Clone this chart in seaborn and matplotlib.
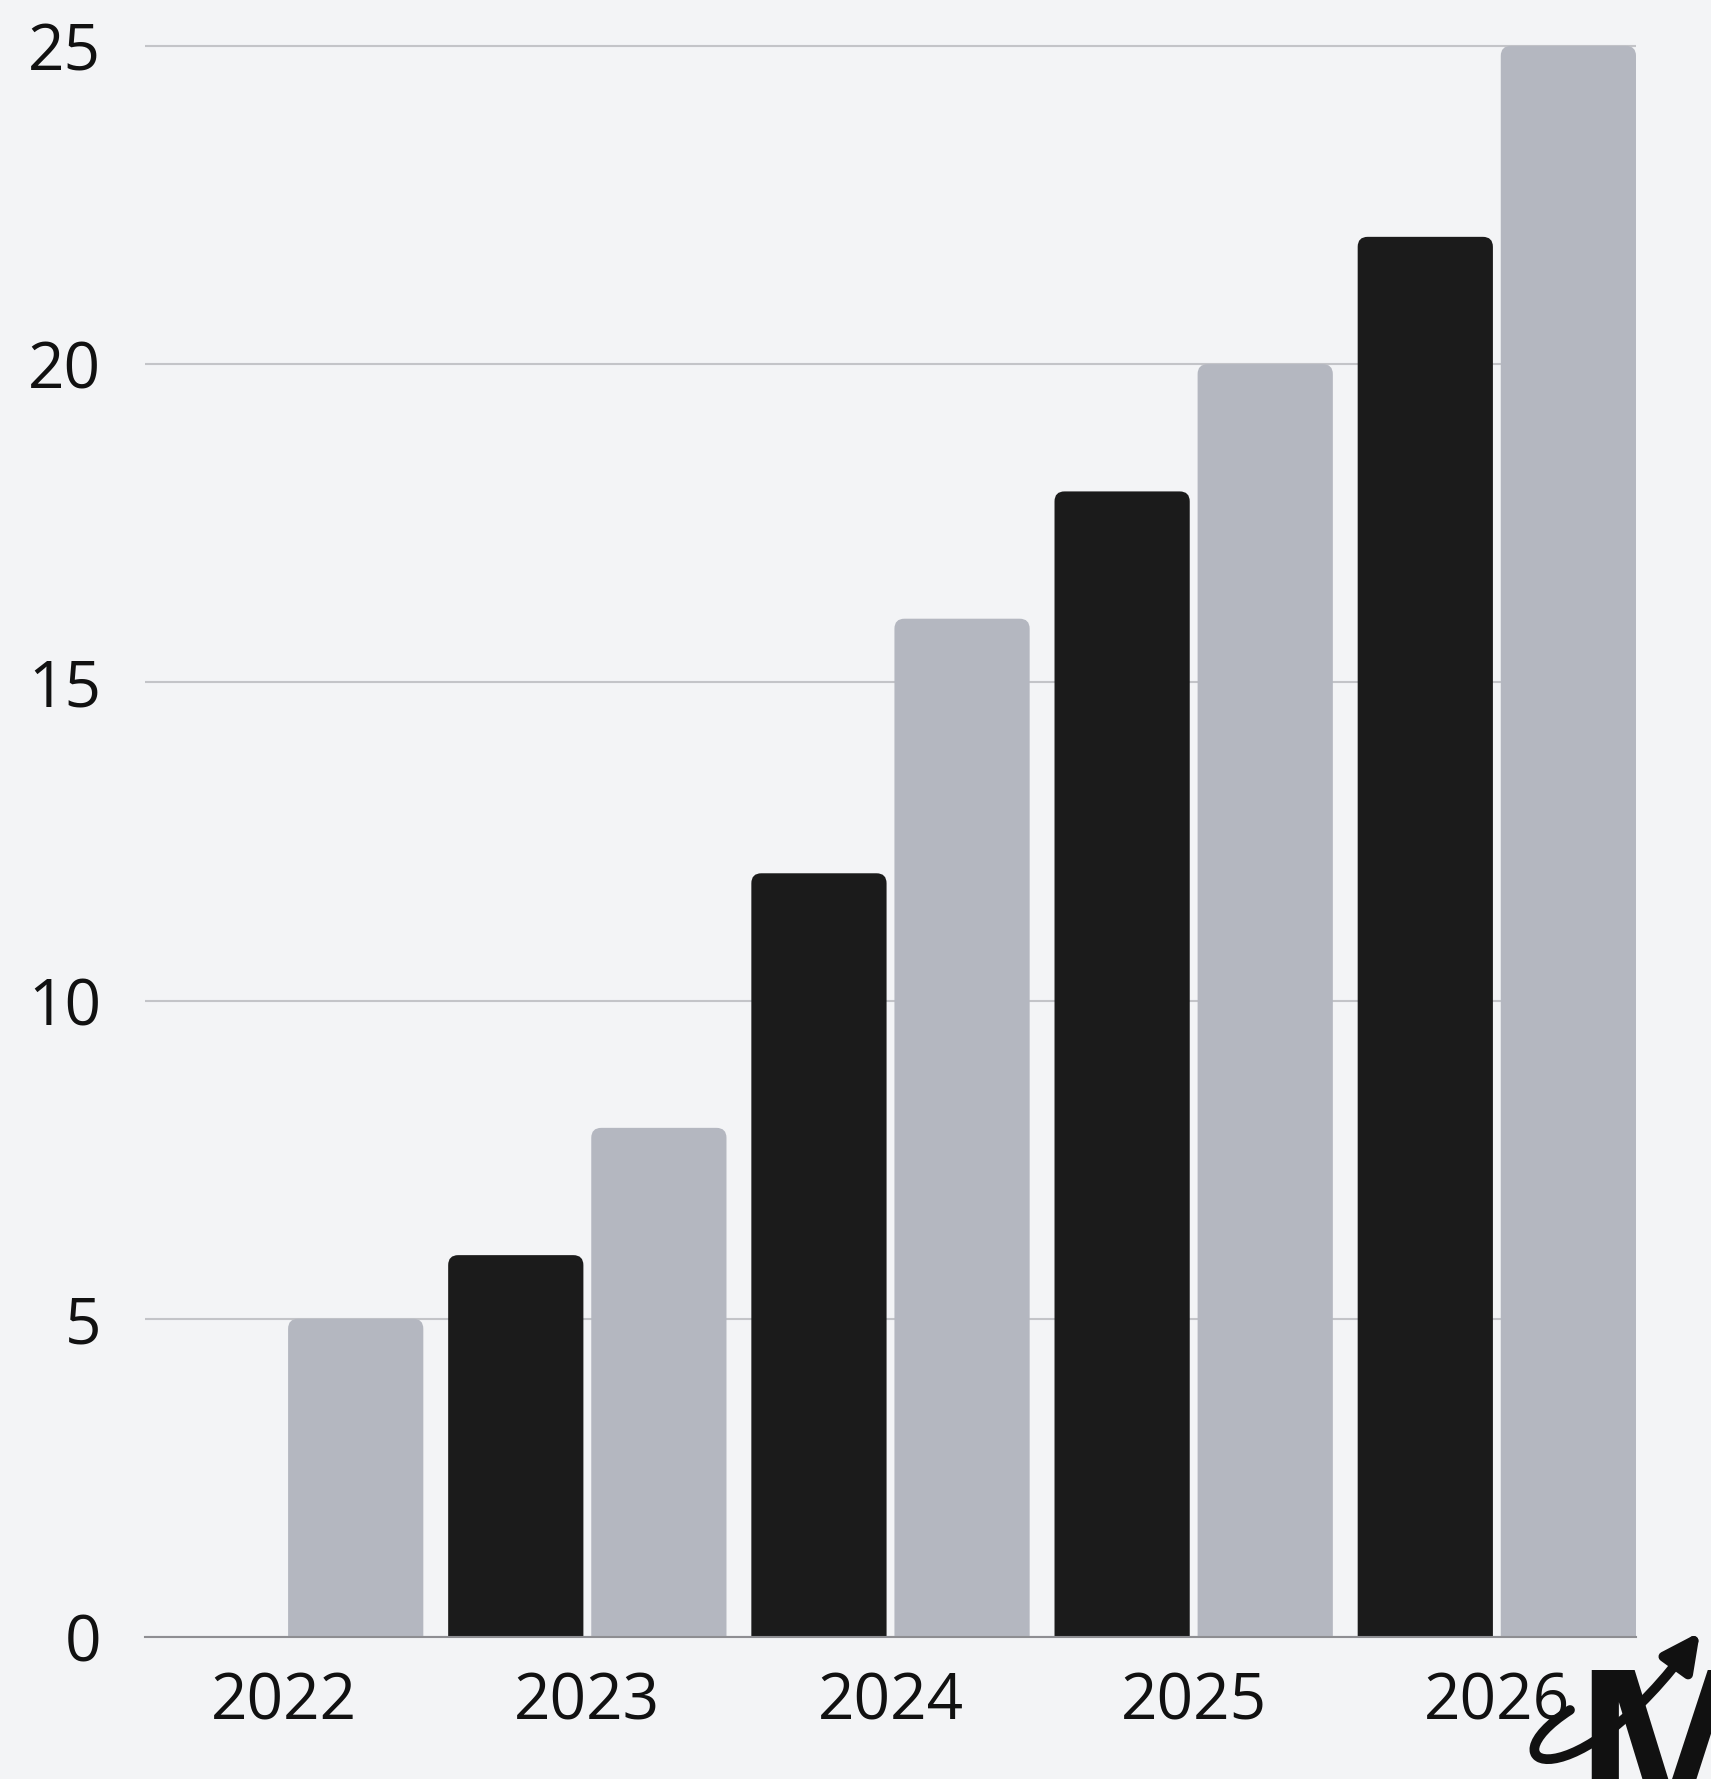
import matplotlib
matplotlib.use('Agg')
import matplotlib.pyplot as plt
import seaborn as sns
import pandas as pd
from matplotlib.patches import FancyBboxPatch, FancyArrowPatch
from matplotlib.path import Path

# ---------------- data ----------------
years = ['2022', '2023', '2024', '2025', '2026']
series_names = ['A', 'B']
values_a = [0, 6, 12, 18, 22]
values_b = [5, 8, 16, 20, 25]
y_ticks = [0, 5, 10, 15, 20, 25]

bg = '#f3f4f6'
bar_colors = ['#1b1b1b', '#b4b7c0']

df = pd.DataFrame({
    'year': years * 2,
    'series': [series_names[0]] * len(years) + [series_names[1]] * len(years),
    'value': values_a + values_b,
})

sns.set_theme(style='white')
plt.rcParams['font.family'] = ['Open Sans', 'DejaVu Sans']

W, H = 1711, 1779
fig = plt.figure(figsize=(W / 100, H / 100), dpi=100, facecolor=bg)
ax = fig.add_axes([145 / W, 142 / H, (1636 - 145) / W, (1735 - 142) / H])
ax.set_facecolor(bg)

sns.barplot(data=df, x='year', y='value', hue='series', palette=bar_colors,
            width=0.944, gap=0.055, saturation=1, errorbar=None,
            legend=False, ax=ax)

# round the top corners: swap each rectangle for a rounded box that dips below 0
r_x, r_y = 0.033, 0.157
for p in list(ax.patches):
    x, w, h = p.get_x(), p.get_width(), p.get_height()
    fc = p.get_facecolor()
    p.remove()
    if h <= 0:
        continue
    box = FancyBboxPatch((x, -r_y * 2), w, h + r_y * 2,
                         boxstyle=f'round,pad=0,rounding_size={r_x}',
                         mutation_aspect=r_y / r_x,
                         facecolor=fc, edgecolor='none', linewidth=0, zorder=2)
    ax.add_patch(box)

ax.set_xlim(-0.459, 4.459)
ax.set_ylim(0, 25.03)
ax.set_yticks(y_ticks)
ax.set_yticklabels([str(t) for t in y_ticks])
ax.set_xlabel('')
ax.set_ylabel('')

ax.set_axisbelow(True)
ax.yaxis.grid(True, color='#c3c4c8', linewidth=1.5)
ax.xaxis.grid(False)
for s in ['left', 'top', 'right']:
    ax.spines[s].set_visible(False)
ax.spines['bottom'].set_color('#8e8e92')
ax.spines['bottom'].set_linewidth(1.5)
ax.spines['bottom'].set_zorder(3)

ax.tick_params(axis='y', length=0, pad=31.5, labelsize=46, labelcolor='#111111')
ax.tick_params(axis='x', length=0, pad=24, labelsize=46, labelcolor='#111111')

# watermark logo (bottom right, partly off the edge like the original)
fig.text(1572 / W, -40 / H, 'M', fontsize=150, fontweight='bold',
         color='#111111', va='baseline', ha='left')
pts = [(1570, H - 1710), (1480, H - 1768), (1575, H - 1805), (1700, H - 1632)]
swoosh = Path([(x / W, y / H) for x, y in pts],
              [Path.MOVETO, Path.CURVE4, Path.CURVE4, Path.CURVE4])
arr = FancyArrowPatch(path=swoosh, arrowstyle='-|>', mutation_scale=55,
                      linewidth=7, color='#111111', transform=fig.transFigure)
fig.patches.append(arr)

fig.savefig('out.png', dpi=100, facecolor=bg)
